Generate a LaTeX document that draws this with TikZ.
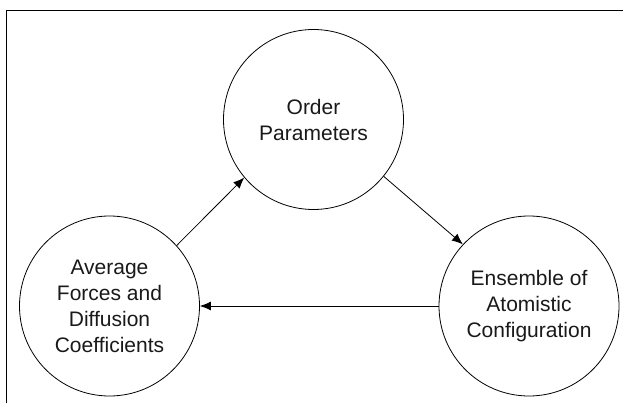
\documentclass[tikz,border=0pt]{standalone}
\usepackage{fontspec}
\setmainfont{Liberation Sans}
\usetikzlibrary{arrows.meta}

\begin{document}
\begin{tikzpicture}[x=1pt, y=-1pt]
\useasboundingbox (0,0) rectangle (623,403);
\tikzset{stage/.style={draw, circle, minimum size=180pt, inner sep=0pt, align=center, line width=0.8pt, text=black!90, font=\fontsize{21}{26}\selectfont}}
% frame
\draw[line width=1pt] (6,403) -- (6,11) -- (623,11);
\node[stage] (ord) at (313.5,119.5) {Order\\Parameters};
\node[stage] (avg) at (109.5,306) {Average\\Forces and\\Diffusion\\Coefficients};
\node[stage] (ens) at (529,306) {Ensemble of\\Atomistic\\Configuration};
\draw [->, line width=0.8pt, >={Latex[length=11pt,width=9pt]}] (avg.42)--(ord.220);
\draw [->, line width=0.8pt, >={Latex[length=11pt,width=9pt]}] (ord.321)--(ens.137);
\draw [->, line width=0.8pt, >={Latex[length=11pt,width=9pt]}] (ens.west)--(avg.east);
\end{tikzpicture}
\end{document}
